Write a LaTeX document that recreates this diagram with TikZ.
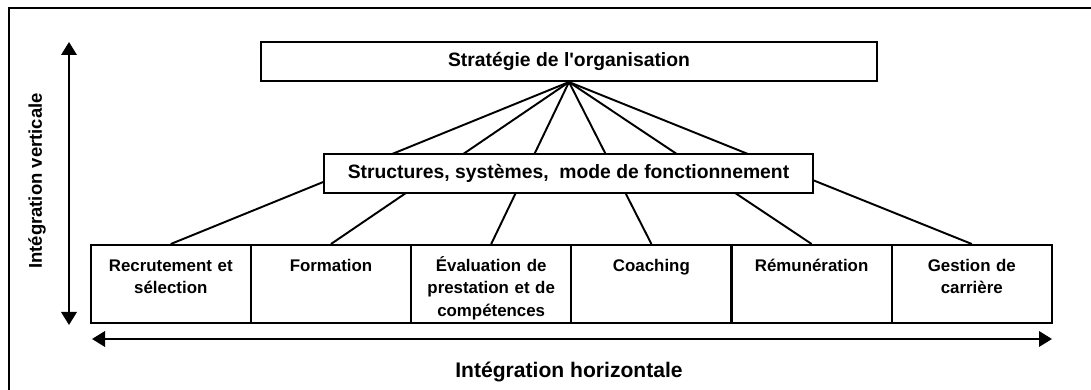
\documentclass[tikz,border=0pt]{standalone}
\usepackage{fontspec}
\setmainfont{Liberation Sans}
\usetikzlibrary{arrows.meta}

\tikzset{
  bloc/.style={draw, line width=1.2pt, inner sep=0pt, font=\fontsize{11}{13}\selectfont\bfseries},
  pratique/.style={draw, line width=1.2pt, inner xsep=0pt, inner ysep=0pt, text width=3.204cm, align=center,
    text height=15pt, text depth=29.2pt, anchor=north, font=\fontsize{9.6}{12.8}\selectfont\bfseries},
  axe/.style={line width=1.2pt, {Triangle[length=7.4pt,width=8.8pt]}-{Triangle[length=7.4pt,width=8.8pt]}},
  lien/.style={line width=1.1pt},
}

\begin{document}
\begin{tikzpicture}

    \useasboundingbox (0,0) rectangle (21.82,7.8);
    \draw[line width=0.8pt] (0.18,0) |- (21.82,7.64);

    \node[bloc, minimum width=12.32cm, minimum height=0.78cm] (s1) at (11.38,6.57) {Strat\'egie de l\textquotesingle organisation};

    \node[pratique] (p1) at (3.416,2.92) {Recrutement et\\s\'election};
    \node[pratique] (p2) at (6.62,2.92) {Formation};
    \node[pratique] (p3) at (9.824,2.92) {\'Evaluation de\\prestation et de\\comp\'etences};
    \node[pratique] (p4) at (13.028,2.92) {Coaching};
    \node[pratique] (p5) at (16.232,2.92) {R\'emun\'eration};
    \node[pratique] (p6) at (19.436,2.92) {Gestion de\\carri\`ere};

    \draw[lien] (s1.south) -- (p1.north);
    \draw[lien] (s1.south) -- (p2.north);
    \draw[lien] (s1.south) -- (p3.north);
    \draw[lien] (s1.south) -- (p4.north);
    \draw[lien] (s1.south) -- (p5.north);
    \draw[lien] (s1.south) -- (p6.north);

    \node[bloc, fill=white, minimum width=9.78cm, minimum height=0.78cm] (s2) at (11.37,4.33) {Structures, syst\`emes,\ \ mode de fonctionnement};

    \coordinate (v1) at (1.38,6.96);
    \coordinate (v2) at (1.38,1.30);
    \draw[axe] (v2) -- (v1);
    \node[rotate=90, font=\fontsize{10.5}{13}\selectfont\bfseries] (lv) at (0.74,4.18) {Int\'egration verticale};

    \coordinate (h1) at (1.84,1.02);
    \coordinate (h2) at (21.04,1.02);
    \draw[axe] (h1) -- (h2);
    \node[anchor=base, font=\fontsize{12}{14}\selectfont\bfseries] (lh) at (11.38,0.24) {Int\'egration horizontale};

\end{tikzpicture}
\end{document}
